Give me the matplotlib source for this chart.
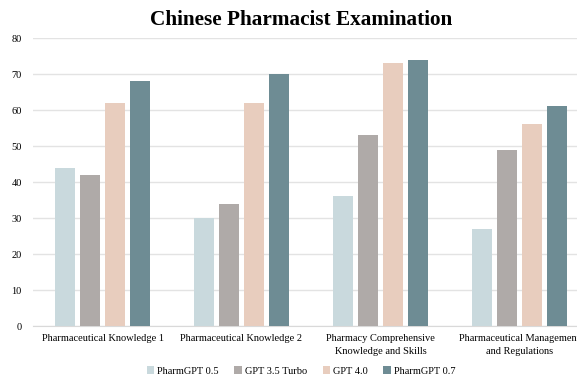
from matplotlib import pyplot as plt
import numpy as np

categories = ['Pharmaceutical Knowledge 1', 'Pharmaceutical Knowledge 2',
              'Pharmacy Comprehensive\nKnowledge and Skills',
              'Pharmaceutical Management\nand Regulations']
series_names = ['PharmGPT 0.5', 'GPT 3.5 Turbo', 'GPT 4.0', 'PharmGPT 0.7']
pharmgpt_05 = [44, 30, 36, 27]
gpt35_turbo = [42, 34, 53, 49]
gpt40 = [62, 62, 73, 56]
pharmgpt_07 = [68, 70, 74, 61]
colors = ['#C9D9DD', '#AFAAA8', '#E8CDBE', '#6E8C94']

plt.rcParams['font.family'] = ['Liberation Serif', 'DejaVu Serif']

fig = plt.figure(figsize=(5.77, 3.78), dpi=100)
# axis runs past the right edge, like the original
ax = fig.add_axes([33 / 577, 1 - 326 / 378, 556 / 577, 288 / 378])

x = np.arange(len(categories))
pitch = 0.18
width = 0.145
all_series = [pharmgpt_05, gpt35_turbo, gpt40, pharmgpt_07]
for i, (vals, name, c) in enumerate(zip(all_series, series_names, colors)):
    ax.bar(x + (i - 1.5) * pitch, vals, width, color=c, label=name, zorder=3)

ax.set_xlim(-0.5, len(categories) - 0.5)
ax.set_ylim(0, 80)
ax.set_yticks(range(0, 81, 10))
ax.set_xticks(x)
ax.set_xticklabels(categories, fontsize=7.5, linespacing=1.55)
ax.tick_params(axis='y', labelsize=7.5, length=0, pad=8)
ax.tick_params(axis='x', length=0, pad=6)
ax.grid(axis='y', color='#E3E3E3', linewidth=1, zorder=0)
for s in ['top', 'right', 'left']:
    ax.spines[s].set_visible(False)
ax.spines['bottom'].set_color('#D9D9D9')

fig.suptitle('Chinese Pharmacist Examination', fontsize=15.3, fontweight='bold',
             x=301 / 577, y=1 - 20 / 378, va='center')
fig.legend(loc='center', bbox_to_anchor=(301 / 577, 1 - 371 / 378), ncol=4,
           frameon=False, fontsize=7.5, handlelength=0.7, handleheight=0.7,
           handletextpad=0.3, columnspacing=1.5)

fig.savefig('out.png', dpi=100)
